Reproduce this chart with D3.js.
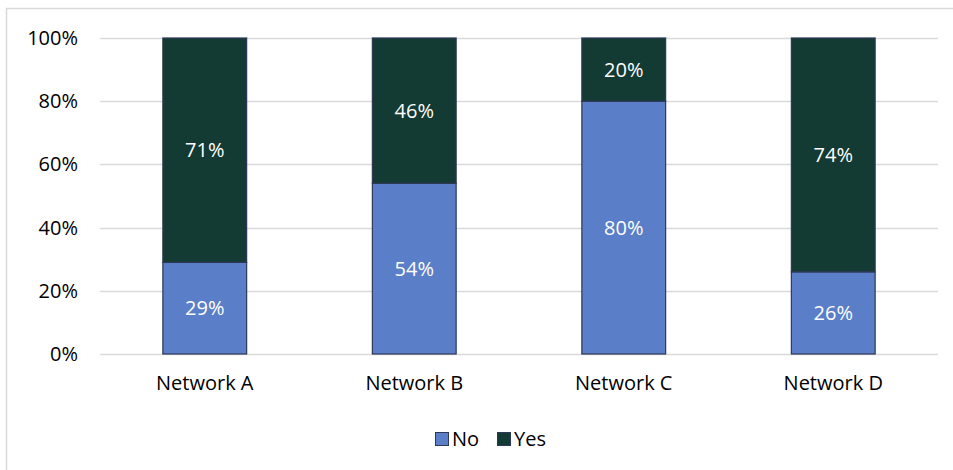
<!DOCTYPE html>
<html>
<head>
<meta charset="utf-8">
<script src="https://cdn.jsdelivr.net/npm/d3@7"></script>
<style>
  html, body { margin: 0; padding: 0; background: #fff; }
  svg { display: block; font-family: "Open Sans", Lato, "Liberation Sans", sans-serif; }
</style>
</head>
<body>
<svg id="chart" width="953" height="470"></svg>
<script>
// Share of responses per network
const categories = ["Network A", "Network B", "Network C", "Network D"];
const noValues  = [29, 54, 80, 26];
const yesValues = [71, 46, 20, 74];
const seriesNames = ["No", "Yes"];
const yTicks = [0, 20, 40, 60, 80, 100];

const colors = { No: "#5a7ec7", Yes: "#133a33" };
const fontSize = 20;

const svg = d3.select("#chart");
const margin = { left: 100, right: 15, top: 38, bottom: 116 };
const W = 953, H = 470;

// Outer chart frame
svg.append("rect")
  .attr("x", 6.5).attr("y", 8.5)
  .attr("width", 960).attr("height", 480)
  .attr("fill", "none").attr("stroke", "#d9d9d9").attr("stroke-width", 1.5);

const x = d3.scaleBand()
  .domain(categories)
  .range([margin.left, W - margin.right])
  .paddingInner(0.6).paddingOuter(0.3);

const y = d3.scaleLinear().domain([0, 100]).range([H - margin.bottom, margin.top]);

// Gridlines
svg.append("g")
  .selectAll("line")
  .data(yTicks)
  .join("line")
  .attr("x1", margin.left).attr("x2", W - margin.right)
  .attr("y1", d => Math.round(y(d)) + 0.5).attr("y2", d => Math.round(y(d)) + 0.5)
  .attr("stroke", "#d9d9d9").attr("stroke-width", 1.5);

// Y axis labels
const yAxis = d3.axisLeft(y).tickValues(yTicks).tickSize(0).tickPadding(0)
  .tickFormat(d => d + "%");
svg.append("g")
  .attr("transform", `translate(${margin.left - 22},0)`)
  .call(yAxis)
  .call(g => g.select(".domain").remove())
  .call(g => g.selectAll("text").attr("font-size", fontSize).attr("fill", "#000")
    .attr("font-family", "'Open Sans', Lato, sans-serif"));

// Stack data
const rows = categories.map((c, i) => ({ cat: c, No: noValues[i], Yes: yesValues[i] }));
const stacked = d3.stack().keys(seriesNames)(rows);

const barGroups = svg.append("g")
  .selectAll("g")
  .data(stacked)
  .join("g")
  .attr("fill", d => colors[d.key]);

barGroups.selectAll("rect")
  .data(d => d)
  .join("rect")
  .attr("x", d => x(d.data.cat))
  .attr("width", x.bandwidth())
  .attr("y", d => y(d[1]))
  .attr("height", d => y(d[0]) - y(d[1]))
  .attr("stroke", "#2e3857").attr("stroke-width", 1.2);

// Value labels
stacked.forEach(s => {
  svg.append("g")
    .selectAll("text")
    .data(s)
    .join("text")
    .attr("x", d => x(d.data.cat) + x.bandwidth() / 2)
    .attr("y", d => (y(d[0]) + y(d[1])) / 2)
    .attr("dy", "0.35em")
    .attr("text-anchor", "middle")
    .attr("font-size", fontSize)
    .attr("fill", "#fff")
    .text(d => d.data[s.key] + "%");
});

// X axis
const xAxis = d3.axisBottom(x).tickSize(0).tickPadding(22);
svg.append("g")
  .attr("transform", `translate(0,${y(0)})`)
  .call(xAxis)
  .call(g => g.select(".domain").remove())
  .call(g => g.selectAll("text").attr("font-size", fontSize).attr("fill", "#000")
    .attr("font-family", "'Open Sans', Lato, sans-serif"));

// Legend
const legend = svg.append("g").attr("transform", "translate(435,432)");
const legendPos = [0, 62];
seriesNames.forEach((name, i) => {
  const g = legend.append("g").attr("transform", `translate(${legendPos[i]},0)`);
  g.append("rect").attr("x", 0.5).attr("y", 0.5).attr("width", 13).attr("height", 13)
    .attr("fill", colors[name]).attr("stroke", "#2e3857").attr("stroke-width", 1);
  g.append("text").attr("x", 17).attr("y", 7).attr("dy", "0.35em")
    .attr("font-size", fontSize).attr("fill", "#000").text(name);
});
</script>
</body>
</html>
